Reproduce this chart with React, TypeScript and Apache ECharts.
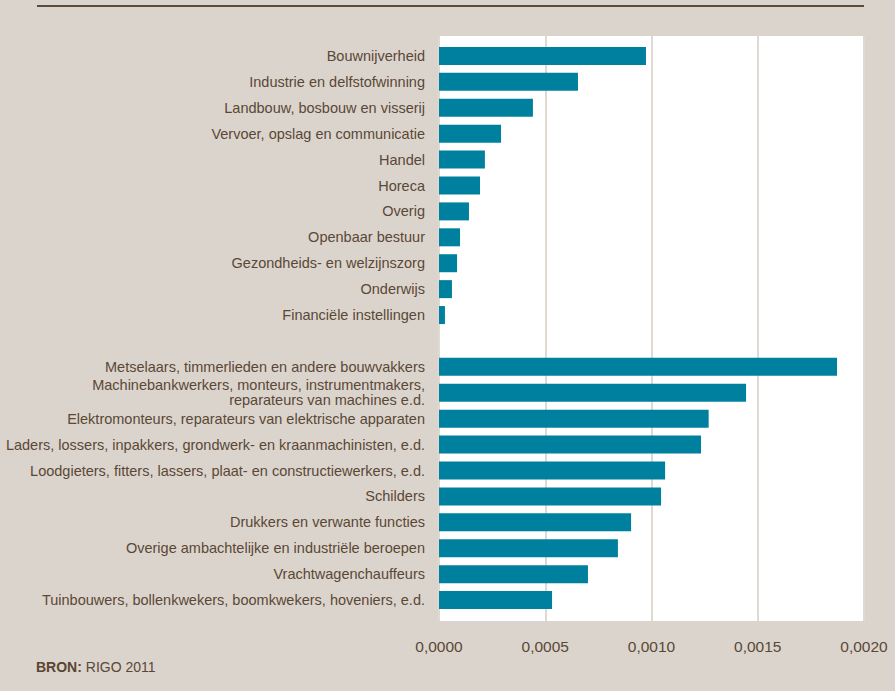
import React, { useEffect, useRef } from "react";
import * as echarts from "echarts";

const categories: string[] = [
  "Bouwnijverheid",
  "Industrie en delfstofwinning",
  "Landbouw, bosbouw en visserij",
  "Vervoer, opslag en communicatie",
  "Handel",
  "Horeca",
  "Overig",
  "Openbaar bestuur",
  "Gezondheids- en welzijnszorg",
  "Onderwijs",
  "Financiële instellingen",
  "",
  "Metselaars, timmerlieden en andere bouwvakkers",
  "Machinebankwerkers, monteurs, instrumentmakers,\nreparateurs van machines e.d.",
  "Elektromonteurs, reparateurs van elektrische apparaten",
  "Laders, lossers, inpakkers, grondwerk- en kraanmachinisten, e.d.",
  "Loodgieters, fitters, lassers, plaat- en constructiewerkers, e.d.",
  "Schilders",
  "Drukkers en verwante functies",
  "Overige ambachtelijke en industriële beroepen",
  "Vrachtwagenchauffeurs",
  "Tuinbouwers, bollenkwekers, boomkwekers, hoveniers, e.d.",
];

const values: (number | null)[] = [
  0.000974, 0.000654, 0.000442, 0.000292, 0.000216, 0.000193, 0.000141,
  0.000099, 0.000085, 0.000061, 0.000028, null, 0.001873, 0.001445,
  0.001269, 0.001233, 0.001064, 0.001045, 0.000904, 0.000842, 0.000701,
  0.000532,
];

const xTicks = { min: 0, max: 0.002, interval: 0.0005 };
const sourceLabel = "RIGO 2011";

export default function App() {
  const ref = useRef<HTMLDivElement>(null);
  useEffect(() => {
    if (!ref.current) return;
    const chart = echarts.init(ref.current, undefined, { renderer: "svg" });
    const font = "'Liberation Sans', Arial, sans-serif";
    const textColor = "#5a4835";
    chart.setOption({
      animation: false,
      backgroundColor: "#dbd4cd",
      textStyle: { fontFamily: font },
      grid: [
        { left: 439, right: 31, top: 43, bottom: 78 },
        {
          left: 439,
          right: 31,
          top: 36,
          bottom: 70,
          show: true,
          backgroundColor: "#ffffff",
          borderWidth: 0,
        },
      ],
      xAxis: [
        { gridIndex: 0, type: "value", ...xTicks, show: false },
        {
          gridIndex: 1,
          type: "value",
          ...xTicks,
          axisLine: { show: false },
          axisTick: { show: false },
          splitLine: { show: true, lineStyle: { color: "#e0d9d2", width: 2 } },
          axisLabel: {
            margin: 17,
            fontSize: 15.5,
            color: textColor,
            fontFamily: font,
            formatter: (v: number) => v.toFixed(4).replace(".", ","),
            showMinLabel: true,
            showMaxLabel: true,
          },
        },
      ],
      yAxis: [
        {
          gridIndex: 0,
          type: "category",
          data: categories,
          inverse: true,
          axisLine: { show: false },
          axisTick: { show: false },
          axisLabel: {
            margin: 14,
            fontSize: 14.5,
            lineHeight: 15,
            color: textColor,
            fontFamily: font,
            align: "right",
            interval: 0,
          },
        },
        { gridIndex: 1, type: "value", min: 0, max: 1, show: false },
      ],
      series: [
        {
          type: "bar",
          xAxisIndex: 0,
          yAxisIndex: 0,
          data: values,
          barWidth: 18,
          itemStyle: { color: "#00809f" },
          z: 3,
        },
      ],
      graphic: [
        {
          type: "line",
          shape: { x1: 37, y1: 6, x2: 864, y2: 6 },
          style: { stroke: "#5c4a3a", lineWidth: 2 },
        },
        {
          type: "text",
          left: 36,
          top: 660,
          style: {
            text: "{b|BRON:} " + sourceLabel,
            rich: {
              b: { fontWeight: "bold", fontSize: 14, fill: "#5a4530", fontFamily: font },
            },
            fontSize: 14,
            fill: "#5a4835",
            fontFamily: font,
          },
        },
      ],
    });
    return () => chart.dispose();
  }, []);
  return (
    <div
      ref={ref}
      style={{ position: "fixed", left: 0, top: 0, width: 895, height: 691 }}
    />
  );
}
